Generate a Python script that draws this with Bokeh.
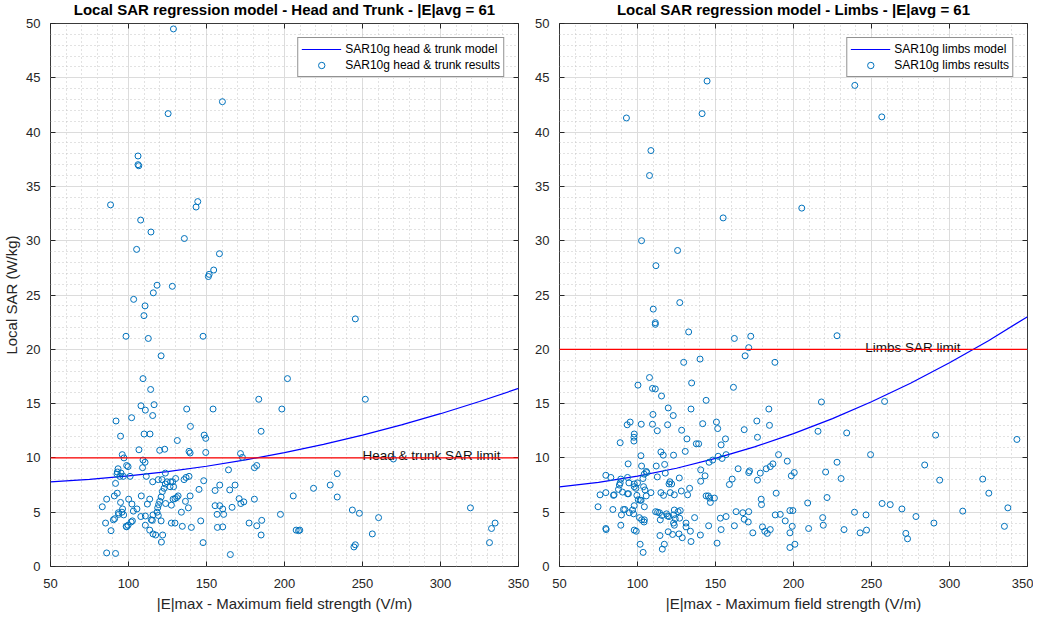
from bokeh.plotting import figure
from bokeh.models import (Span, Legend, LegendItem, LinearAxis, SingleIntervalTicker, Range1d,
                          CustomLabelingPolicy)
from bokeh.layouts import row
from bokeh.embed import file_html
from bokeh.resources import INLINE
from bokeh.core.properties import value

# ---------------- data ----------------
model_E = [50, 75, 100, 125, 150, 175, 200, 225, 250, 275, 300, 325, 350]
head_model_sar = [7.80, 8.02, 8.34, 8.74, 9.23, 9.82, 10.49, 11.25, 12.10, 13.04, 14.07, 15.19, 16.40]
limbs_model_sar = [7.34, 7.74, 8.32, 9.05, 9.95, 11.01, 12.23, 13.62, 15.17, 16.88, 18.76, 20.79, 23.00]

head_E = [
    128.8, 125.4, 160.2, 106.1, 106.1, 106.6, 88.5, 144.4, 143.3, 107.8, 114.4, 135.8, 105.2, 158.3,
    154.6, 151.7, 151.2, 118.3, 128.1, 115.9, 103.3, 110.6, 109.9, 98.4, 112.7, 147.8, 245.4, 120.9,
    109.3, 201.9, 114.2, 183.5, 251.8, 108.0, 110.8, 116.4, 115.5, 92.0, 102.0, 137.3, 154.2, 198.3,
    139.7, 185.0, 94.9, 110.0, 113.8, 131.3, 148.5, 149.5, 120.0, 123.2, 106.7, 138.8, 139.5, 149.5,
    96.0, 97.1, 171.8, 173.0, 269.8, 109.3, 110.6, 98.8, 99.7, 109.0, 180.7, 182.2, 93.3, 92.8,
    95.2, 94.5, 92.6, 96.7, 101.0, 123.6, 111.4, 164.1, 233.8, 91.7, 115.5, 119.1, 121.5, 124.7,
    127.0, 128.3, 130.2, 135.6, 136.9, 138.8, 123.6, 126.6, 128.9, 122.8, 121.7, 148.2, 145.2, 229.3,
    218.6, 155.5, 158.5, 164.9, 168.3, 120.9, 120.0, 119.3, 118.7, 118.3, 119.1, 115.7, 115.3, 120.9,
    115.7, 117.4, 121.9, 121.1, 133.9, 134.5, 140.3, 127.5, 129.8, 146.3, 147.8, 138.4, 136.5, 139.5,
    130.9, 131.8, 129.8, 128.6, 127.5, 123.8, 155.5, 158.5, 160.4, 156.8, 161.0, 157.0, 160.4, 166.4,
    170.9, 173.9, 172.0, 180.7, 205.6, 233.8, 165.3, 177.3, 182.2, 185.4, 185.0, 197.4, 83.2, 86.0,
    90.9, 92.8, 94.9, 93.5, 95.8, 96.9, 96.2, 100.1, 102.2, 105.4, 103.1, 85.3, 88.8, 90.3,
    91.1, 93.7, 99.7, 98.8, 101.7, 98.5, 102.5, 107.9, 110.8, 110.8, 114.6, 113.6, 108.2, 112.1,
    113.6, 86.0, 91.7, 243.5, 248.0, 260.3, 319.2, 207.5, 209.0, 209.8, 256.3, 244.5, 245.4, 335.0,
    332.7, 331.4]
head_sar = [
    49.5, 41.7, 42.8, 37.8, 37.0, 36.9, 33.3, 33.6, 33.1, 31.9, 30.8, 30.2, 29.2, 28.8,
    27.3, 26.9, 26.7, 25.9, 25.8, 25.2, 24.6, 24.0, 23.1, 21.2, 21.0, 21.2, 22.8, 19.4,
    17.3, 17.3, 16.3, 15.4, 15.4, 14.8, 14.4, 14.9, 13.9, 13.4, 13.7, 14.5, 14.5, 14.5,
    12.9, 12.45, 12.0, 12.2, 12.2, 11.6, 12.1, 11.8, 10.7, 10.8, 10.75, 10.6, 10.45, 10.5,
    10.3, 10.0, 10.4, 10.05, 9.9, 9.8, 9.6, 9.3, 9.2, 9.1, 9.1, 9.3, 9.0, 8.7,
    8.6, 8.3, 8.5, 8.3, 8.3, 8.6, 8.3, 8.9, 8.55, 7.65, 7.8, 8.0, 8.0, 7.8,
    7.8, 7.8, 8.1, 8.0, 8.2, 8.3, 7.6, 7.35, 7.35, 7.2, 6.9, 7.9, 7.1, 7.5,
    7.2, 7.0, 7.5, 7.05, 7.5, 6.4, 6.0, 5.7, 5.4, 5.0, 4.7, 4.75, 4.25, 4.2,
    3.0, 2.9, 2.9, 2.25, 5.0, 3.7, 3.6, 4.0, 4.0, 4.2, 2.2, 5.4, 6.0, 6.5,
    6.35, 6.5, 6.25, 6.2, 5.65, 5.8, 5.6, 5.6, 5.3, 4.8, 4.8, 3.6, 3.65, 5.45,
    6.25, 5.95, 5.8, 6.2, 6.5, 6.4, 1.1, 4.0, 3.75, 4.25, 2.9, 4.8, 5.5, 6.2,
    6.5, 6.75, 5.9, 4.95, 5.0, 4.75, 5.3, 6.2, 5.75, 5.3, 5.1, 4.0, 3.3, 4.3,
    4.4, 4.8, 3.8, 3.65, 4.1, 3.7, 4.2, 4.6, 4.65, 3.8, 4.3, 3.35, 6.5, 5.75,
    6.2, 1.25, 1.2, 5.2, 4.9, 4.5, 5.4, 3.35, 3.3, 3.35, 3.0, 1.8, 2.0, 4.0,
    3.5, 2.2]

limbs_E = [
    144.6, 92.9, 141.4, 239.3, 256.6, 108.6, 107.7, 154.9, 205.3, 102.6, 125.7, 111.8, 127.1, 110.1,
    111.4, 111.4, 132.8, 227.9, 162.1, 172.6, 171.3, 169.0, 129.6, 140.1, 188.1, 107.7, 100.3, 134.7,
    109.6, 111.4, 161.5, 115.4, 144.0, 217.9, 258.4, 119.7, 134.3, 184.2, 122.9, 109.9, 95.3, 93.4,
    102.4, 109.6, 119.3, 112.7, 150.6, 151.4, 141.8, 176.5, 184.6, 168.4, 176.9, 156.4, 153.6, 215.7,
    234.1, 291.1, 343.2, 128.3, 131.7, 137.7, 139.2, 97.9, 97.7, 97.7, 88.9, 190.4, 249.4, 156.8,
    154.2, 102.2, 115.0, 116.5, 123.1, 130.6, 145.9, 148.2, 151.7, 196.0, 186.8, 185.1, 182.5, 164.5,
    171.8, 171.3, 178.7, 198.6, 200.5, 176.9, 160.7, 158.9, 227.9, 220.6, 230.5, 284.1, 293.7, 321.3,
    94.0, 102.6, 112.0, 117.4, 105.6, 104.3, 106.0, 79.7, 82.9, 88.9, 93.6, 94.5, 97.9, 100.0,
    89.3, 88.4, 87.8, 90.4, 93.6, 97.9, 99.0, 103.9, 104.8, 103.5, 112.7, 117.8, 120.8, 121.9,
    126.8, 133.4, 128.1, 132.1, 140.5, 143.3, 140.5, 76.0, 79.7, 84.6, 85.0, 94.2, 99.6, 101.7,
    105.6, 108.6, 115.0, 116.7, 121.0, 123.6, 120.2, 144.0, 145.4, 146.7, 149.3, 146.3, 325.2, 188.9,
    179.3, 179.5, 209.1, 221.5, 256.8, 262.0, 269.5, 278.5, 308.5, 337.4, 163.2, 167.5, 171.3, 156.8,
    153.1, 168.4, 171.0, 162.1, 153.6, 188.3, 191.5, 194.7, 197.7, 199.6, 199.2, 197.7, 197.7, 200.9,
    180.1, 181.6, 183.2, 185.1, 173.9, 209.7, 218.7, 219.1, 232.4, 239.1, 246.5, 246.8, 242.7, 272.0,
    273.1, 290.0, 335.2, 74.7, 84.2, 91.0, 91.9, 89.7, 94.7, 96.8, 97.9, 97.5, 100.5, 102.3,
    104.4, 101.2, 102.7, 104.4, 104.2, 111.6, 112.9, 114.1, 115.7, 118.6, 119.3, 123.6, 123.1, 126.0,
    127.4, 124.2, 123.1, 123.6, 114.6, 120.2, 127.0, 131.1, 131.1, 136.6, 145.6, 79.7, 79.9, 89.3,
    97.9, 99.2, 114.4, 119.7, 122.5, 126.6, 128.7, 133.9, 140.3, 101.7, 103.6, 115.9, 117.2, 134.3,
    151.0]
limbs_sar = [
    44.7, 41.3, 41.7, 44.3, 41.4, 38.3, 36.0, 32.1, 33.0, 30.0, 29.1, 27.7, 24.3, 23.7,
    22.45, 22.3, 21.6, 21.25, 21.0, 21.2, 20.15, 19.4, 18.8, 19.1, 18.8, 17.4, 16.7, 16.9,
    16.4, 16.35, 16.5, 15.7, 15.3, 15.15, 15.2, 14.6, 14.5, 14.5, 13.9, 14.0, 13.3, 13.05,
    13.1, 13.1, 13.05, 12.5, 13.3, 12.7, 13.15, 13.4, 13.0, 12.6, 11.9, 11.75, 11.2, 12.45,
    12.3, 12.1, 11.7, 12.55, 11.75, 11.3, 11.3, 12.2, 11.9, 11.55, 11.4, 10.3, 10.3, 10.3,
    9.95, 10.2, 10.55, 10.25, 10.25, 10.6, 9.6, 9.8, 10.15, 9.7, 9.45, 9.2, 9.0, 9.0,
    8.8, 8.65, 8.6, 8.35, 8.65, 7.95, 8.05, 7.55, 9.6, 8.7, 8.1, 9.35, 7.95, 8.05,
    9.45, 9.25, 9.25, 9.4, 8.75, 8.5, 8.65, 8.4, 8.2, 7.7, 8.2, 7.7, 7.6, 7.7,
    8.05, 7.5, 7.1, 6.85, 6.7, 7.35, 7.2, 7.35, 7.05, 8.1, 8.25, 8.6, 7.8, 7.6,
    8.15, 7.2, 6.95, 6.6, 8.9, 8.35, 7.85, 6.6, 6.8, 6.55, 6.6, 6.7, 6.55, 6.1,
    6.5, 6.8, 6.8, 6.55, 6.8, 6.6, 7.6, 6.5, 6.5, 5.9, 6.3, 6.3, 6.75, 6.75,
    6.2, 5.7, 5.85, 6.35, 5.8, 5.7, 5.3, 4.6, 5.1, 5.4, 5.05, 4.95, 5.05, 4.6,
    4.45, 4.35, 4.1, 3.75, 3.4, 4.75, 4.8, 4.2, 5.15, 5.15, 3.7, 3.1, 1.75, 2.05,
    3.65, 3.25, 3.05, 3.4, 3.1, 3.5, 4.5, 3.8, 3.4, 5.0, 4.75, 3.35, 3.1, 3.05,
    2.55, 4.0, 3.7, 5.5, 5.25, 5.25, 5.25, 4.75, 4.95, 5.2, 5.6, 4.85, 6.15, 6.1,
    5.5, 4.5, 4.3, 4.3, 4.1, 5.05, 5.0, 4.95, 4.7, 4.85, 4.65, 5.2, 4.75, 5.05,
    5.15, 4.4, 4.0, 3.8, 4.3, 4.6, 4.45, 4.0, 3.65, 4.5, 3.75, 3.5, 3.4, 3.8,
    3.35, 3.25, 2.85, 3.2, 2.95, 3.0, 2.65, 3.25, 2.9, 2.05, 1.3, 1.6, 2.05, 2.3,
    2.15]

head_limit = 10
limbs_limit = 20
head_limit_label = "Head & trunk SAR limit"
limbs_limit_label = "Limbs SAR limit"
head_label_E = 250
limbs_label_E = 246

head_title = "Local SAR regression model - Head and Trunk - |E|avg = 61"
limbs_title = "Local SAR regression model - Limbs - |E|avg = 61"
head_legend = ["SAR10g head & trunk model", "SAR10g head & trunk results"]
limbs_legend = ["SAR10g limbs model", "SAR10g limbs results"]
x_label = "|E|max - Maximum field strength (V/m)"
y_label = "Local SAR (W/kg)"

FONT = "Liberation Sans"
AX = "#262626"


def make_panel(title, model_y, pts_x, pts_y, limit, limit_label, label_E, legend_labels,
               ylabel, border_left, border_right):
    p = figure(x_range=Range1d(50, 350), y_range=Range1d(0, 50),
               frame_width=468, frame_height=543,
               min_border_left=border_left, min_border_right=border_right,
               min_border_top=23, min_border_bottom=44,
               output_backend="svg", toolbar_location=None, title=title)
    p.background_fill_color = "white"
    p.border_fill_color = "white"
    p.outline_line_color = "#3a3a3a"
    p.outline_line_width = 1

    p.title.text_font = FONT
    p.title.text_font_size = "15px"
    p.title.text_font_style = "bold"
    p.title.text_color = "#000000"
    p.title.align = "center"
    p.title.standoff = 4

    xt = SingleIntervalTicker(interval=50, num_minor_ticks=5)
    yt = SingleIntervalTicker(interval=5, num_minor_ticks=5)
    p.xaxis.ticker = xt
    p.yaxis.ticker = yt
    p.xgrid.ticker = xt
    p.ygrid.ticker = yt

    for ax in (p.xaxis, p.yaxis):
        ax.axis_line_color = None
        ax.major_tick_in = 5
        ax.major_tick_out = 0
        ax.major_tick_line_color = AX
        ax.minor_tick_line_color = None
        ax.major_label_text_font = FONT
        ax.major_label_text_font_size = "13px"
        ax.major_label_text_color = AX
        ax.axis_label_text_font = FONT
        ax.axis_label_text_font_size = "15px"
        ax.axis_label_text_font_style = "normal"
        ax.axis_label_text_color = AX
    p.xaxis.major_label_standoff = 8
    p.yaxis.major_label_standoff = 6
    p.xaxis.axis_label = x_label
    p.xaxis.axis_label_standoff = 4
    if ylabel:
        p.yaxis.axis_label = ylabel
        p.yaxis.axis_label_standoff = 3

    # mirrored tick marks (no labels) on top and right, as in a boxed axes
    for loc, tk in (("above", SingleIntervalTicker(interval=50, num_minor_ticks=5)),
                    ("right", SingleIntervalTicker(interval=5, num_minor_ticks=5))):
        a = LinearAxis(ticker=tk, major_label_text_font_size="0px", major_label_standoff=0,
                       major_label_policy=CustomLabelingPolicy(code="return new Set()"),
                       major_tick_in=5, major_tick_out=0, minor_tick_line_color=None,
                       axis_line_color=None, major_tick_line_color=AX)
        p.add_layout(a, loc)

    for g in (p.xgrid, p.ygrid):
        g.grid_line_color = "#dcdcdc"
        g.grid_line_width = 1
        g.minor_grid_line_color = "#c4c4c4"
        g.minor_grid_line_dash = "1 3"
        g.minor_grid_line_width = 1

    line_r = p.line(model_E, model_y, line_color="#0000FF", line_width=1.2)
    pts_r = p.scatter(pts_x, pts_y, marker="circle", size=6, fill_color=None,
                      line_color="#0072BD", line_width=1)

    p.add_layout(Span(location=limit, dimension="width", line_color="#FF0000", line_width=1.2))
    p.text(x=[label_E], y=[limit], text=[limit_label], text_font=value(FONT),
           text_font_size="13.5px", text_color="#111111", text_align="left",
           text_baseline="alphabetic", y_offset=-2)

    leg = Legend(items=[LegendItem(label=legend_labels[0], renderers=[line_r]),
                        LegendItem(label=legend_labels[1], renderers=[pts_r])],
                 location="top_right", margin=14, padding=3, spacing=0,
                 glyph_width=40, glyph_height=16, label_height=16, label_standoff=4,
                 label_text_font=FONT, label_text_font_size="12px", label_text_color="#000000",
                 border_line_color=AX, border_line_width=1,
                 background_fill_color="white", background_fill_alpha=1)
    p.add_layout(leg)
    return p


p1 = make_panel(head_title, head_model_sar, head_E, head_sar, head_limit, head_limit_label,
                head_label_E, head_legend, y_label, 40, 14)
p2 = make_panel(limbs_title, limbs_model_sar, limbs_E, limbs_sar, limbs_limit, limbs_limit_label,
                limbs_label_E, limbs_legend, None, 25, 6)

layout = row(p1, p2)
layout.styles = {"margin-top": "-4px", "margin-bottom": "-8px"}

open("out.html", "w").write(file_html(layout, INLINE))
